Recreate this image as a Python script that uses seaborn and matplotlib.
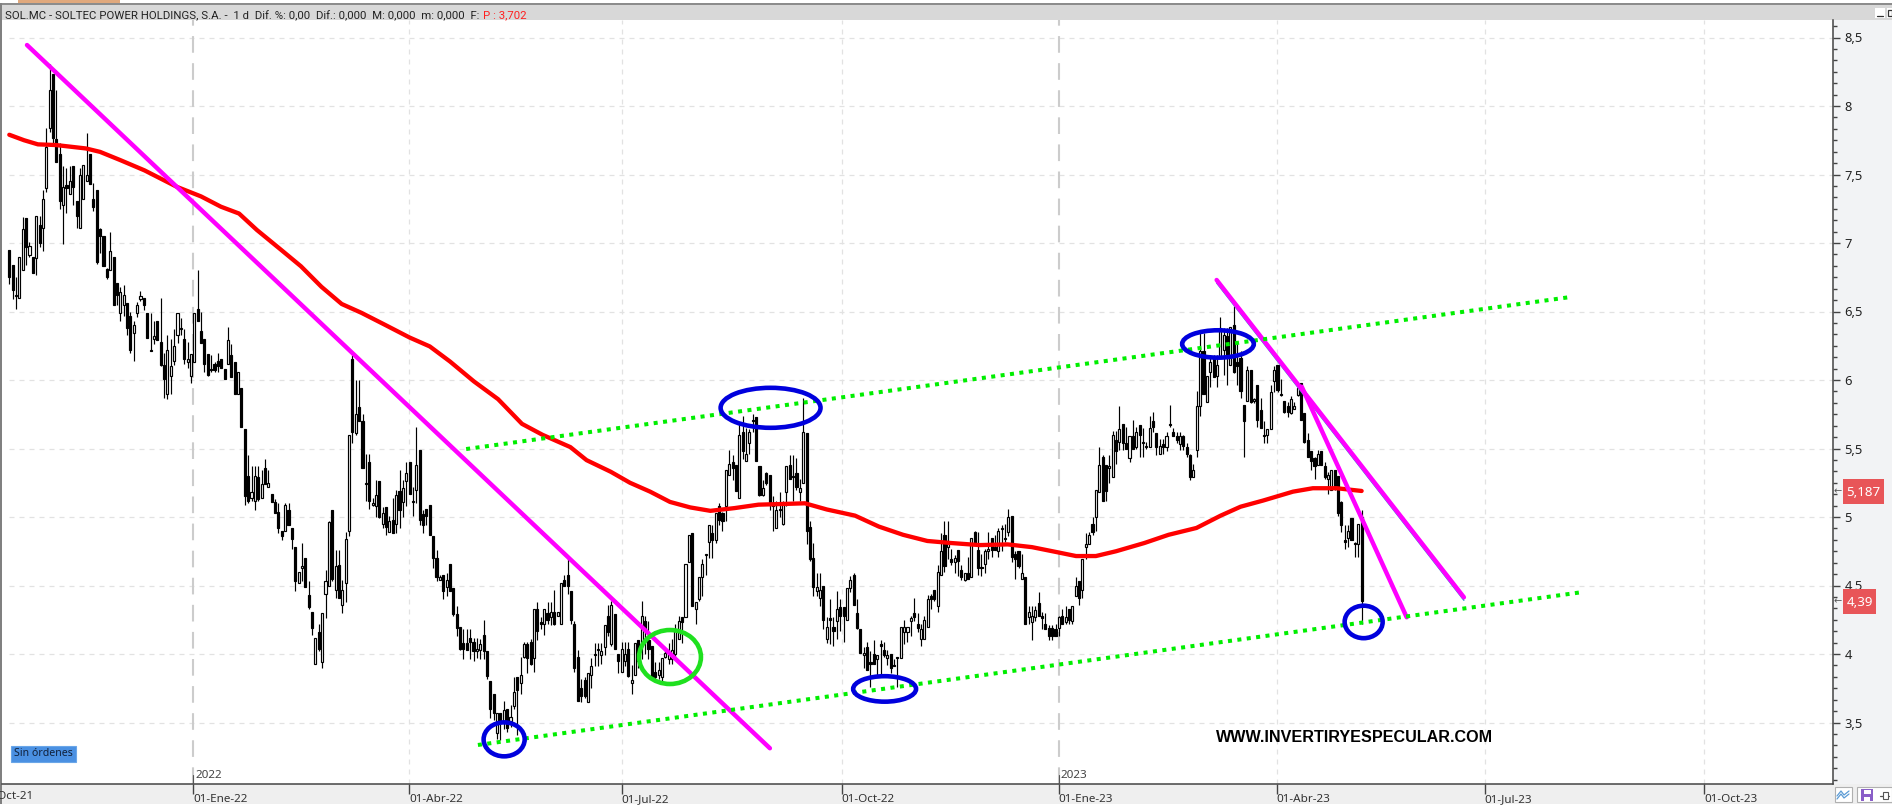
import matplotlib
matplotlib.use("Agg")
import matplotlib.pyplot as plt
from matplotlib.patches import Ellipse, Rectangle
import numpy as np
import seaborn as sns

# ---- candles, ten to a row ----
direction = (
"BBWWWBWBWB" "WWWBBBWBWB" "BWWWBBBBBB" "WBBWWBBWWW" "BBBWBBBWWW" "WWBWWWBBBB" "BBBBBWBBWB" "BBWWBWBWBB"
"BBWBBBWWBB" "BWBWWWBWBW" "WWBWBBBBWW" "BWBWBWBWWB" "BWBBBBBBWB" "WBBBBBBBBW" "WBBBBWBWBW" "WBWWBBWBBW"
"BWBWWBBBBB" "BBWWBWWWBW" "BBWWBWWBWB" "BBBWWWWWWW" "BWWBWWWWWB" "WBBWWBBWBW" "WBBBWBBBWB" "WWBBBWWBBB"
"WWBWBBWBBW" "WBBBWBBBWB" "BWBBBWWWWB" "BWWWBBWWBW" "BWBBWBWBBB" "WWBBWWBWBB" "BWBWWWBBBB" "BBWBWBWWBW"
"WWBWWBBWWB" "WBBWBWBBWW" "BBWBWBBBWB" "BBWWWBWWBW" "WWBWBBBBWB" "WBBBWWWBBB" "BWWWBBBBBW" "BBWWBBBBWB"
"BWB")
body_top = [
6.95,6.84,6.62,6.90,7.10,7.18,6.98,6.90,7.20,7.13,
7.32,7.70,8.12,8.23,7.76,7.65,7.41,7.42,7.45,7.56,
7.31,7.50,7.57,7.50,7.65,7.32,7.39,7.10,7.05,6.81,
6.94,6.90,6.71,6.64,6.62,6.56,6.47,6.40,6.55,6.61,
6.60,6.49,6.22,6.32,6.43,6.28,6.11,6.22,6.10,6.25,
6.49,6.38,6.30,6.15,6.19,6.49,6.52,6.36,6.30,6.19,
6.07,6.12,6.14,6.15,6.08,6.29,6.18,6.13,6.06,5.94,
5.64,5.30,5.18,5.30,5.29,5.24,5.36,5.25,5.17,5.11,
5.04,4.90,5.09,5.05,4.92,4.78,4.60,4.64,4.70,4.43,
4.31,4.12,4.16,4.30,4.53,4.96,5.05,4.64,4.65,4.47,
4.84,5.60,6.15,5.75,5.80,5.70,5.25,5.40,5.10,5.16,
5.26,5.03,5.07,4.97,4.98,5.16,5.19,5.21,5.32,5.40,
5.12,5.38,5.49,5.02,5.06,5.09,4.86,4.70,4.56,4.58,
4.54,4.66,4.48,4.29,4.20,4.08,4.08,4.12,4.09,4.04,
4.07,4.14,4.02,3.80,3.71,3.57,3.57,3.59,3.60,3.54,
3.72,3.83,3.85,4.07,4.07,4.09,4.33,4.33,4.23,4.33,
4.30,4.31,4.31,4.31,4.52,4.54,4.58,4.46,4.22,3.98,
3.75,3.81,3.86,3.91,4.00,4.04,4.02,4.21,4.28,4.36,
4.29,4.00,4.04,4.00,4.04,3.81,4.08,4.10,4.28,4.24,
4.10,4.06,3.87,3.88,3.97,4.01,4.00,4.03,4.18,4.24,
4.27,4.66,4.87,4.88,4.38,4.56,4.66,4.73,4.94,4.88,
5.03,5.08,5.03,5.34,5.39,5.40,5.38,5.60,5.62,5.46,
5.62,5.71,5.73,5.37,5.21,5.32,5.31,5.10,5.05,5.05,
5.10,5.37,5.38,5.29,5.32,5.21,5.62,5.61,4.93,4.70,
4.49,4.47,4.50,4.20,4.26,4.20,4.33,4.34,4.34,4.48,
4.54,4.58,4.30,4.18,4.01,4.05,3.94,4.00,3.99,4.07,
4.03,3.99,4.00,3.92,3.98,4.20,4.20,4.20,4.26,4.30,
4.22,4.18,4.25,4.40,4.42,4.47,4.60,4.75,4.87,4.81,
4.69,4.70,4.76,4.61,4.59,4.59,4.85,4.89,4.76,4.63,
4.75,4.77,4.85,4.78,4.90,4.92,4.85,5.00,5.01,4.73,
4.75,4.59,4.56,4.31,4.28,4.32,4.37,4.28,4.22,4.19,
4.19,4.18,4.27,4.28,4.27,4.33,4.35,4.50,4.53,4.69,
4.80,4.87,4.95,5.20,5.38,5.44,5.38,5.37,5.60,5.56,
5.64,5.68,5.54,5.59,5.59,5.62,5.67,5.55,5.51,5.65,
5.70,5.61,5.52,5.53,5.59,5.68,5.62,5.59,5.59,5.59,
5.51,5.45,5.34,5.81,6.21,6.21,6.03,6.13,6.17,6.11,
6.38,6.33,6.32,6.39,6.40,6.13,6.16,5.82,6.07,6.07,
5.86,5.96,5.78,5.60,5.64,5.91,6.07,6.11,5.90,5.85,
5.81,5.86,5.81,5.94,5.98,5.76,5.56,5.48,5.43,5.46,
5.48,5.37,5.31,5.34,5.34,5.30,5.11,4.83,4.90,4.99,
4.81,4.95,5.00,
]
body_bottom = [
6.75,6.66,6.61,6.60,6.80,6.97,6.91,6.78,6.89,7.00,
7.11,7.40,7.84,7.77,7.59,7.31,7.28,7.40,7.36,7.41,
7.20,7.11,7.32,7.45,7.43,7.26,6.86,7.05,6.83,6.75,
6.80,6.55,6.62,6.49,6.55,6.38,6.22,6.34,6.49,6.59,
6.55,6.31,6.21,6.30,6.29,6.11,6.01,5.90,6.03,6.14,
6.33,6.37,6.15,6.13,6.03,6.13,6.43,6.27,6.12,6.04,
6.07,6.07,6.10,6.09,6.01,6.12,6.02,5.90,5.90,5.66,
5.15,5.12,5.14,5.12,5.13,5.14,5.24,5.22,5.11,5.03,
4.92,4.86,4.90,4.94,4.84,4.53,4.52,4.63,4.49,4.34,
4.19,3.93,4.04,3.94,4.44,4.50,4.55,4.47,4.41,4.36,
4.52,4.90,5.62,5.61,5.70,5.36,5.24,5.12,5.09,5.08,
5.00,4.95,4.93,4.89,4.88,4.95,5.05,5.11,5.26,5.17,
5.11,5.20,4.98,4.94,5.01,4.87,4.70,4.56,4.54,4.46,
4.49,4.46,4.29,4.19,4.04,4.04,4.03,4.09,4.02,4.02,
4.03,4.02,3.84,3.60,3.57,3.42,3.51,3.51,3.46,3.51,
3.62,3.74,3.79,3.98,3.97,3.93,3.97,4.17,4.22,4.22,
4.25,4.27,4.22,4.28,4.22,4.50,4.50,4.25,3.90,3.66,
3.69,3.69,3.65,3.85,3.99,4.03,3.99,4.05,4.16,4.07,
4.04,3.95,3.87,3.95,3.84,3.79,3.85,3.95,4.09,4.18,
4.04,3.83,3.83,3.85,3.83,3.98,3.96,3.96,4.00,4.11,
4.23,4.27,4.67,4.35,4.33,4.40,4.56,4.72,4.82,4.83,
4.83,4.98,4.97,5.08,5.31,5.36,5.19,5.14,5.48,5.41,
5.54,5.70,5.41,5.16,5.16,5.25,5.09,5.08,4.92,5.05,
4.95,5.18,5.28,5.29,5.22,5.18,5.25,4.90,4.69,4.49,
4.46,4.41,4.25,4.11,4.25,4.17,4.24,4.28,4.28,4.25,
4.48,4.36,4.19,4.01,3.99,3.88,3.93,3.93,3.96,4.06,
3.99,3.97,3.90,3.91,3.97,3.97,4.16,4.16,4.24,4.27,
4.19,4.11,4.11,4.20,4.40,4.40,4.35,4.58,4.64,4.78,
4.67,4.67,4.68,4.56,4.54,4.55,4.56,4.81,4.63,4.63,
4.66,4.75,4.76,4.76,4.75,4.91,4.84,4.89,4.71,4.69,
4.64,4.55,4.22,4.27,4.23,4.27,4.28,4.26,4.18,4.13,
4.13,4.13,4.19,4.22,4.23,4.25,4.24,4.42,4.41,4.47,
4.78,4.80,4.89,5.00,5.18,5.12,5.19,5.36,5.29,5.48,
5.55,5.54,5.50,5.43,5.50,5.51,5.60,5.54,5.51,5.51,
5.66,5.51,5.46,5.51,5.51,5.67,5.59,5.56,5.53,5.52,
5.46,5.29,5.29,5.49,5.81,5.90,5.84,6.06,6.02,6.03,
6.17,6.22,6.17,6.11,6.06,6.10,5.92,5.70,5.85,5.84,
5.85,5.71,5.65,5.59,5.60,5.64,5.99,5.93,5.89,5.77,
5.77,5.76,5.79,5.89,5.71,5.55,5.44,5.41,5.37,5.38,
5.38,5.29,5.28,5.20,5.21,5.03,4.94,4.82,4.85,4.83,
4.80,4.80,4.39,
]
highs = [
6.95,6.84,6.75,6.90,7.19,7.18,7.01,6.90,7.20,7.20,
7.39,7.84,8.31,8.23,8.12,7.73,7.56,7.55,7.56,7.56,
7.31,7.55,7.57,7.80,7.65,7.44,7.39,7.11,7.05,6.82,
7.08,6.90,6.71,6.68,6.69,6.56,6.50,6.43,6.57,6.65,
6.60,6.49,6.49,6.43,6.43,6.60,6.20,6.33,6.30,6.37,
6.49,6.45,6.37,6.28,6.19,6.49,6.80,6.50,6.30,6.19,
6.18,6.13,6.20,6.15,6.08,6.39,6.26,6.13,6.06,5.94,
5.64,5.45,5.37,5.37,5.37,5.34,5.42,5.34,5.17,5.13,
5.10,4.90,5.10,5.10,4.92,4.78,4.60,4.81,4.70,4.53,
4.31,4.12,4.22,4.30,4.61,4.97,5.05,4.76,4.76,4.54,
4.89,5.60,6.18,6.00,6.00,5.75,5.46,5.46,5.14,5.27,
5.26,5.07,5.07,5.01,5.14,5.20,5.34,5.27,5.40,5.40,
5.22,5.66,5.49,5.05,5.06,5.09,4.86,4.76,4.58,4.58,
4.59,4.66,4.48,4.35,4.20,4.18,4.18,4.18,4.12,4.12,
4.11,4.25,4.02,3.80,3.71,3.57,3.57,3.66,3.60,3.63,
3.83,3.83,3.98,4.09,4.09,4.11,4.33,4.38,4.27,4.33,
4.38,4.38,4.47,4.31,4.52,4.58,4.70,4.46,4.24,4.03,
3.82,3.83,3.86,3.97,4.08,4.08,4.08,4.21,4.36,4.39,
4.29,4.00,4.09,4.09,4.09,3.92,4.08,4.10,4.39,4.28,
4.24,4.06,3.94,3.94,3.97,4.04,4.08,4.11,4.22,4.28,
4.27,4.66,4.87,4.88,4.38,4.56,4.69,4.73,4.94,4.94,
5.03,5.10,5.04,5.34,5.49,5.45,5.38,5.68,5.74,5.65,
5.64,5.75,5.73,5.37,5.27,5.33,5.31,5.15,5.12,5.18,
5.12,5.37,5.45,5.45,5.43,5.28,5.87,5.61,4.97,4.81,
4.59,4.59,4.50,4.27,4.40,4.27,4.46,4.40,4.34,4.48,
4.57,4.59,4.40,4.18,4.05,4.09,4.02,4.10,3.99,4.10,
4.09,4.03,4.00,3.96,3.98,4.20,4.25,4.20,4.28,4.41,
4.30,4.22,4.28,4.43,4.44,4.47,4.65,4.88,4.97,4.97,
4.77,4.72,4.76,4.65,4.59,4.71,4.85,4.90,4.89,4.73,
4.77,4.89,4.85,4.87,4.92,4.94,4.95,5.06,5.01,4.75,
4.75,4.73,4.56,4.35,4.35,4.35,4.45,4.31,4.30,4.21,
4.21,4.22,4.28,4.33,4.35,4.33,4.35,4.56,4.53,4.69,
4.88,4.89,5.00,5.20,5.51,5.45,5.38,5.45,5.63,5.63,
5.81,5.68,5.66,5.59,5.71,5.66,5.67,5.65,5.55,5.74,
5.77,5.61,5.57,5.57,5.62,5.82,5.65,5.62,5.62,5.60,
5.54,5.46,5.39,5.92,6.34,6.34,6.03,6.18,6.18,6.18,
6.46,6.38,6.38,6.39,6.54,6.28,6.21,5.82,6.10,6.07,
5.87,5.96,5.87,5.70,5.64,5.96,6.10,6.11,6.01,5.85,
5.84,5.88,5.84,5.96,5.98,5.76,5.61,5.48,5.44,5.49,
5.48,5.40,5.33,5.34,5.34,5.30,5.12,4.94,4.94,4.99,
4.82,4.95,5.05,
]
lows = [
6.70,6.59,6.52,6.60,6.80,6.84,6.90,6.78,6.77,6.97,
6.94,7.37,7.81,7.73,7.59,7.25,6.99,7.22,7.36,7.28,
7.11,7.11,7.32,7.45,7.43,7.23,6.85,6.93,6.83,6.74,
6.80,6.55,6.55,6.43,6.47,6.33,6.20,6.14,6.46,6.58,
6.51,6.31,6.21,6.26,6.29,6.10,5.87,5.86,5.90,6.11,
6.27,6.33,6.12,6.09,5.98,6.13,6.43,6.27,6.06,6.03,
6.06,6.06,6.06,6.09,6.01,6.12,6.02,5.90,5.90,5.66,
5.09,5.10,5.12,5.05,5.12,5.14,5.24,5.22,5.11,5.03,
4.88,4.83,4.90,4.94,4.77,4.46,4.52,4.53,4.49,4.33,
4.14,3.93,4.02,3.90,4.26,4.50,4.53,4.41,4.41,4.30,
4.38,4.86,5.54,5.60,5.70,5.36,5.12,5.06,5.08,5.00,
4.99,4.92,4.87,4.89,4.88,4.88,4.92,5.00,5.08,5.17,
5.01,5.10,4.94,4.88,4.94,4.87,4.63,4.53,4.54,4.40,
4.42,4.46,4.28,4.13,4.03,3.96,4.03,3.96,3.95,3.97,
3.96,3.96,3.82,3.53,3.52,3.38,3.37,3.45,3.43,3.47,
3.60,3.41,3.71,3.97,3.86,3.92,3.87,4.10,4.18,4.14,
4.22,4.21,4.21,4.28,4.22,4.50,4.44,4.22,3.87,3.66,
3.65,3.68,3.65,3.75,3.91,3.91,3.93,3.99,4.13,4.06,
4.04,3.86,3.87,3.91,3.83,3.71,3.85,3.90,3.96,4.00,
3.96,3.83,3.82,3.82,3.80,3.97,3.93,3.93,3.98,4.11,
4.08,4.27,4.67,4.35,4.22,4.39,4.42,4.58,4.70,4.70,
4.81,4.94,4.90,4.97,5.31,5.27,5.19,5.14,5.42,5.41,
5.46,5.62,5.41,5.15,5.15,5.23,5.05,4.90,4.92,5.00,
4.94,5.08,5.28,5.12,5.20,5.12,5.25,4.80,4.68,4.42,
4.42,4.35,4.18,4.08,4.07,4.06,4.11,4.17,4.09,4.25,
4.45,4.36,4.18,4.01,3.90,3.88,3.76,3.93,3.85,3.85,
3.98,3.92,3.86,3.91,3.76,3.97,4.07,4.09,4.13,4.24,
4.16,4.06,4.11,4.20,4.33,4.39,4.31,4.58,4.60,4.69,
4.65,4.59,4.57,4.54,4.53,4.55,4.56,4.81,4.58,4.57,
4.59,4.69,4.71,4.76,4.71,4.75,4.82,4.86,4.67,4.55,
4.63,4.55,4.22,4.22,4.10,4.24,4.28,4.18,4.18,4.10,
4.10,4.13,4.13,4.22,4.22,4.22,4.22,4.42,4.36,4.41,
4.69,4.80,4.87,4.90,5.18,5.12,5.12,5.25,5.29,5.39,
5.49,5.49,5.50,5.40,5.50,5.50,5.44,5.44,5.50,5.51,
5.62,5.45,5.46,5.46,5.48,5.66,5.59,5.54,5.49,5.49,
5.44,5.27,5.29,5.44,5.74,5.90,5.84,5.95,6.02,5.95,
6.17,6.04,5.96,6.11,6.05,5.96,5.87,5.44,5.85,5.83,
5.83,5.66,5.65,5.54,5.54,5.64,5.91,5.91,5.88,5.76,
5.73,5.75,5.79,5.88,5.71,5.54,5.44,5.34,5.28,5.38,
5.38,5.28,5.17,5.20,5.20,5.01,4.89,4.77,4.78,4.83,
4.71,4.71,4.22,
]

# ---- moving average ----
ma_x = [0,4.4,8.5,13.9,22.8,27,33,40.2,45,49.8,57,62.9,68.3,73.6,80.8,86.7,92.8,98.8,104.7,111.9,
        119,125,131,138.1,145.3,152.4,158.5,166.8,171.6,178.8,184.5,190.5,196.4,202.4,208.4,215.6,
        222.7,229.9,236.5,243,251.4,258.5,265.7,272.9,280,288.4,296.8,304,311.1,317.1,323,329,
        337.4,344.6,352.9,360.1,366,372.7,381.6,387.5,394.6,402]
ma_y = [7.79,7.75,7.72,7.715,7.69,7.665,7.605,7.53,7.47,7.41,7.34,7.265,7.215,7.095,6.95,6.83,6.68,6.555,6.49,6.40,
        6.31,6.245,6.135,5.99,5.86,5.68,5.60,5.51,5.415,5.33,5.25,5.185,5.11,5.07,5.045,5.065,
        5.09,5.095,5.10,5.055,5.01,4.93,4.87,4.825,4.81,4.795,4.80,4.78,4.745,4.715,4.715,4.75,
        4.81,4.87,4.92,5.01,5.075,5.12,5.185,5.21,5.21,5.19]

# ---- hand-drawn trend lines: (x0, x1), (price0, price1) ----
magenta_lines = [((5.26, 226.1), (8.445, 3.312)), ((358.9, 432.4), (6.73, 4.414)), ((384.2, 415.4), (5.951, 4.268))]
green_lines = [((135.8, 464.2), (5.496, 6.606)), ((139.3, 466.8), (3.336, 4.449))]
# ---- hand-drawn ellipses: centre x, centre price, width, height ----
blue_rings = [(147.1, 3.377, 12.2, 0.248), (226.3, 5.797, 29.7, 0.292), (260.2, 3.745, 18.7, 0.186),
              (359.3, 6.263, 21.3, 0.2), (402.6, 4.234, 11.3, 0.237)]
green_ring = (196.4, 3.978, 18.4, 0.394)

x_pos = [54.7, 118.9, 182, 247.4, 312, 376.8, 438.6, 503.9]
x_lab = ["01-Ene-22", "01-Abr-22", "01-Jul-22", "01-Oct-22", "01-Ene-23", "01-Abr-23", "01-Jul-23", "01-Oct-23"]
y_ticks = [3.5, 4, 4.5, 5, 5.5, 6, 6.5, 7, 7.5, 8, 8.5]
y_lab = ["3,5", "4", "4,5", "5", "5,5", "6", "6,5", "7", "7,5", "8", "8,5"]
header = "SOL.MC - SOLTEC POWER HOLDINGS, S.A. -  1 d  Dif. %: 0,00  Dif.: 0,000  M: 0,000  m: 0,000  F:"

print(len(direction), len(body_top), len(body_bottom), len(highs), len(lows))
n = min(len(direction), len(body_top), len(body_bottom), len(highs), len(lows))
t, b, hi, lo = [np.array(a[:n]) for a in (body_top, body_bottom, highs, lows)]
hi = np.maximum(hi, t)
lo = np.minimum(lo, b)
up = np.array([d == "W" for d in direction[:n]])
idx = np.arange(n)

sns.set_theme(style="white")
plt.rcParams["font.family"] = ["Noto Sans", "DejaVu Sans"]

W, H = 1892, 806
fig = plt.figure(figsize=(W / 100, H / 100), dpi=100, facecolor="white")

bg = fig.add_axes([0, 0, 1, 1], zorder=0)
bg.set_xlim(0, W); bg.set_ylim(H, 0); bg.axis("off")
top = fig.add_axes([0, 0, 1, 1], zorder=3)
top.set_xlim(0, W); top.set_ylim(H, 0); top.axis("off"); top.patch.set_alpha(0)

def box(a, x0, y0, x1, y1, fc, ec="none", lw=0, z=1):
    a.add_patch(Rectangle((x0, y0), x1 - x0, y1 - y0, fc=fc, ec=ec, lw=lw, zorder=z))

box(bg, 1833, 20, W, 784, "#f2f3f5")
box(bg, 0, 784, W, 804, "#efefef")
box(bg, 0, 5, W, 20, "#d8d8d8")
box(bg, 0, 3, W, 5, "#8c8c8c")
box(bg, 18, 0, 120, 3, "#e0a87c")
box(bg, 0, 3, 2, 804, "#808080")

ax = fig.add_axes([2 / W, 1 - 784 / H, (1833.3 - 2) / W, (784 - 20) / H], zorder=2)
ax.set_xlim((2 - 9.3) / 3.364, (1833.3 - 9.3) / 3.364)
ax.set_ylim(8.5 - (784 - 37.5) / 137, 8.5 - (20 - 37.5) / 137)
ax.set_facecolor("white")
for s in ("top", "left"):
    ax.spines[s].set_visible(False)
for s in ("bottom", "right"):
    ax.spines[s].set_color("#444444")
    ax.spines[s].set_linewidth(1.1)

# grid
ax.hlines(y_ticks, 0, ax.get_xlim()[1], color="#e2e2e2", lw=0.9, ls=(0, (4, 4)), zorder=0)
for p, lab in zip(x_pos, x_lab):
    year = "Ene" in lab
    ax.axvline(p, color="#cccccc" if year else "#e2e2e2", lw=1.5 if year else 0.9,
               ls=(0, (8, 5)) if year else (0, (4, 4)), zorder=0)

# candles
height = np.maximum(t - b, 0.008)
ax.vlines(idx, lo, hi, color="black", lw=0.85, zorder=2)
ax.bar(idx[up], height[up], bottom=b[up], width=0.62, facecolor="white", edgecolor="black", lw=0.85, zorder=3)
ax.bar(idx[~up], height[~up], bottom=b[~up], width=0.62, facecolor="black", edgecolor="black", lw=0.85, zorder=3)

# overlays
sns.lineplot(x=ma_x, y=ma_y, color="#ff0000", lw=3.1, ax=ax, zorder=4, sort=False, estimator=None)
xs, ys = magenta_lines[1]
sns.lineplot(x=[xs[0], xs[1]], y=[ys[0] - 0.022, ys[1] - 0.022], color="#2f8fd0", lw=1.0, ax=ax, zorder=4.5, sort=False, estimator=None)
for xs, ys in magenta_lines:
    sns.lineplot(x=list(xs), y=list(ys), color="#ff00ff", lw=3.2, ax=ax, zorder=5, sort=False, estimator=None)
for xs, ys in green_lines:
    line = sns.lineplot(x=list(xs), y=list(ys), color="#00ee00", lw=2.9, ax=ax, zorder=5, sort=False, estimator=None).lines[-1]
    line.set_linestyle((0, (1, 1.35)))
    line.set_dash_capstyle("butt")
for cx, cy, w, hh in blue_rings:
    ax.add_patch(Ellipse((cx, cy), w, hh, fc="none", ec="#0000dd", lw=3.3, zorder=6))
ax.add_patch(Ellipse(green_ring[:2], green_ring[2], green_ring[3], fc="none", ec="#1fe01f", lw=3.3, zorder=6))

# axes ticks
ax.yaxis.tick_right()
ax.set_yticks(y_ticks, labels=y_lab)
ax.set_yticks(np.arange(37, 104) / 12, minor=True)
ax.tick_params(axis="y", which="major", length=5, width=1, color="#444444", labelsize=9.3, labelcolor="#222222", pad=3, right=True)
ax.tick_params(axis="y", which="minor", length=3, width=1, color="#444444", right=True)
ax.set_xticks(x_pos, labels=x_lab, ha="left")
ax.tick_params(axis="x", length=7, width=1, color="#444444", labelsize=8.4, labelcolor="#333333", pad=0, bottom=True)
ax.set_xlabel(""); ax.set_ylabel("")

# texts and chrome
top.text(-20, 796.5, "01-Oct-21", fontsize=8.4, color="#333333", va="center", ha="left")
top.text(5, 15.5, header, fontsize=8.2, family="Roboto", color="#222222", va="center", ha="left")
top.text(483, 15.5, "P : 3,702", fontsize=8.2, family="Roboto", color="#ff2020", va="center", ha="left")
top.text(195, 776, "2022", fontsize=8.4, color="#444444", va="center", ha="left")
top.text(1060, 776, "2023", fontsize=8.4, color="#444444", va="center", ha="left")
top.plot([193, 193], [775, 784], color="#555555", lw=0.8)
top.plot([1058.7, 1058.7], [775, 784], color="#555555", lw=0.8)
top.text(1216, 738, "WWW.INVERTIRYESPECULAR.COM", fontsize=11.6, fontweight="bold", family="Liberation Sans", color="black", va="center", ha="left")
box(top, 11, 746, 76, 762, "#4a90e2", ec="#6aa6e8", lw=0.8)
top.text(43.5, 754, "Sin órdenes", fontsize=7.6, color="#10203a", va="center", ha="center")
box(top, 1843, 479, 1884, 503.5, "#e85558", z=4)
top.text(1863.5, 492, "5,187", fontsize=9.6, color="white", va="center", ha="center", zorder=5)
box(top, 1843, 589, 1876, 614, "#e85558", z=4)
top.text(1859.5, 602, "4,39", fontsize=9.6, color="white", va="center", ha="center", zorder=5)
top.text(1838, 491, "←", fontsize=7, color="#555555", family="DejaVu Sans", va="center", ha="center")
top.text(1838, 601, "←", fontsize=7, color="#555555", family="DejaVu Sans", va="center", ha="center")
# window buttons and toolbar icons
box(top, 1875, 8, 1885, 18, "white")
top.plot([1877, 1883], [16, 16], color="#333333", lw=0.9)
box(top, 1887, 8, W, 18, "white")
box(top, 1888, 10, W, 16, "none", ec="#333333", lw=0.9)
box(top, 1834.5, 787, 1851.5, 802, "white", ec="#b0b0b0", lw=0.8)
top.plot([1837, 1841, 1844, 1849], [796, 791, 795, 791], color="#5b9bd5", lw=0.9)
top.plot([1837, 1841, 1844, 1849], [799, 794, 798, 794], color="#5b9bd5", lw=0.9)
box(top, 1856.5, 787, W, 802, "white", ec="#b0b0b0", lw=0.8)
box(top, 1861, 789, 1873, 801, "#8a5fc8")
box(top, 1863.5, 789.5, 1870.5, 793.5, "white", z=2)
box(top, 1864, 796.5, 1870, 801, "white", z=2)
top.plot([1880, 1889], [796, 796], color="#555555", lw=0.9)
box(top, 1883, 792, 1888, 799, "white", ec="#555555", lw=0.8, z=2)

fig.savefig("out.png", dpi=100, facecolor="white")
